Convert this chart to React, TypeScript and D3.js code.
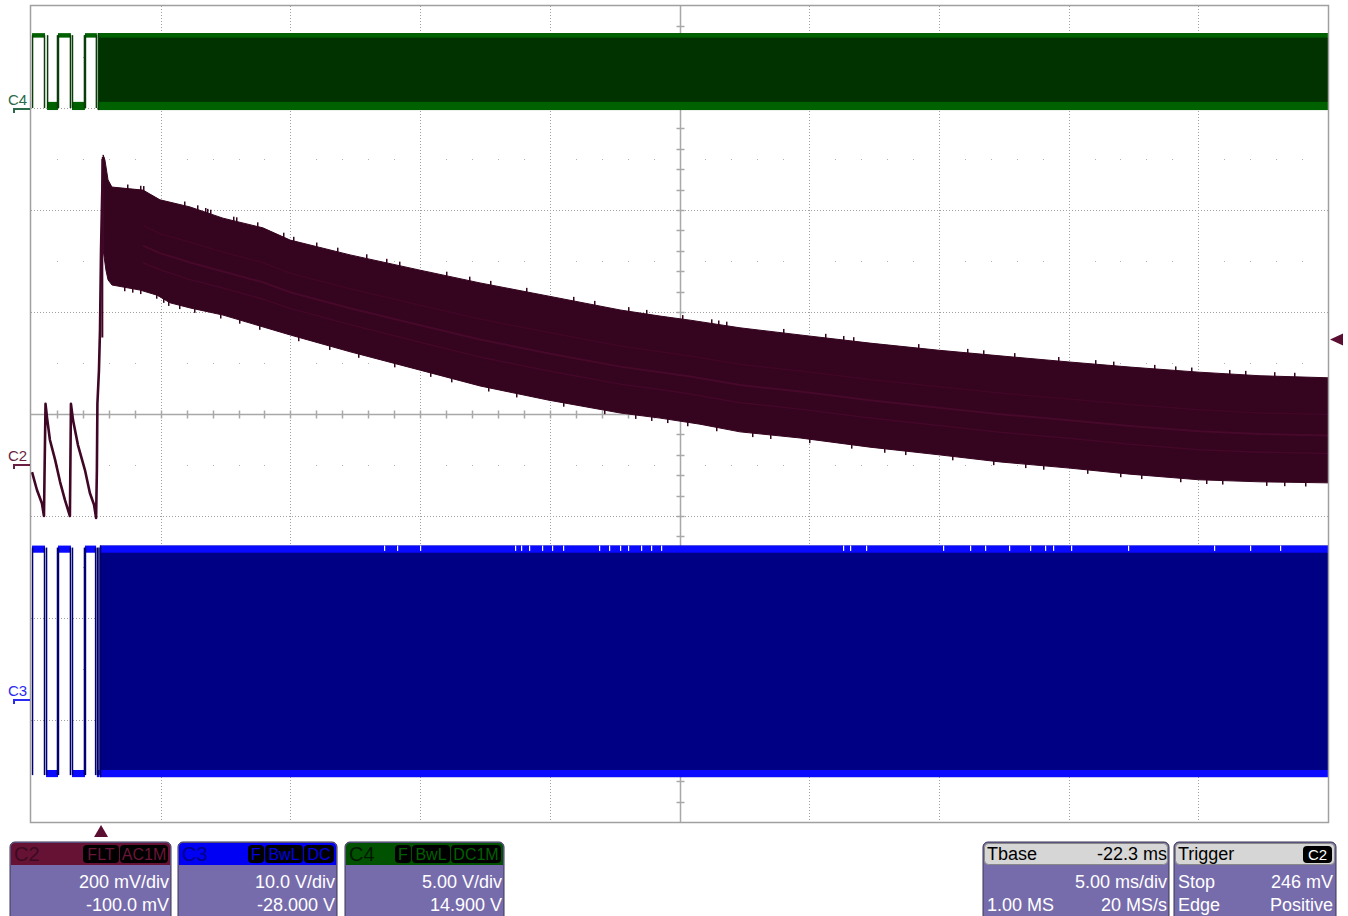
import React from 'react';
import * as d3 from 'd3';

const W = 1348;
const H = 916;

// ---- acquisition settings ----
const TIME_PER_DIV = 5; // ms/div
const TIME_CENTER = 22.3; // ms (Tbase delay)
const H_DIVS = 10;
const V_DIVS = 8;
const TRIGGER_LEVEL = 0.246; // V on C2

// position (div) = (v - offset) / vdiv  ... 0 V sits at -offset/vdiv
const CHANNELS = [
  { name: 'C2', vdiv: 0.2, offset: -0.1 },
  { name: 'C3', vdiv: 10, offset: -28 },
  { name: 'C4', vdiv: 5, offset: 14.9 },
];

// ---- C2 (maroon) : time ms, volts ----
const c2PreTrigger: [number, number][] = [
  [-2.66, -0.014], [-2.47, -0.049], [-2.28, -0.075], [-2.2, -0.1], [-2.18, -0.025],
  [-2.14, 0.12], [-2.08, 0.092], [-1.97, 0.049], [-1.77, 0.01], [-1.58, -0.033],
  [-1.39, -0.069], [-1.2, -0.1], [-1.16, 0.12], [-1.08, 0.088], [-0.89, 0.039],
  [-0.62, -0.01], [-0.43, -0.055], [-0.27, -0.078], [-0.19, -0.104], [-0.16, -0.01],
  [-0.14, 0.12], [-0.08, 0.186], [-0.04, 0.265], [0.0, 0.422], [0.04, 0.52], [0.08, 0.604],
];
const c2EnvelopeTop: [number, number][] = [
  [0.08, 0.608], [0.15, 0.598], [0.27, 0.559], [0.42, 0.545], [1.62, 0.539], [2.27, 0.52],
  [3.43, 0.506], [4.7, 0.484], [6.24, 0.465], [7.29, 0.441], [9.6, 0.412], [12.3, 0.382],
  [14.61, 0.357], [17.27, 0.331], [20.01, 0.304], [21.55, 0.292], [22.71, 0.284], [24.63, 0.269],
  [26.95, 0.255], [29.64, 0.239], [32.3, 0.225], [34.66, 0.214], [37.32, 0.202], [39.67, 0.192],
  [42.33, 0.182], [44.68, 0.175], [47.3, 0.171],
];
const c2EnvelopeBottom: [number, number][] = [
  [0.08, 0.422], [0.19, 0.382], [0.27, 0.363], [0.42, 0.353], [1.5, 0.343], [2.16, 0.333],
  [2.66, 0.318], [3.43, 0.308], [4.7, 0.294], [7.29, 0.255], [9.6, 0.222], [12.3, 0.186],
  [14.61, 0.155], [17.27, 0.127], [20.01, 0.102], [21.55, 0.092], [23.09, 0.08], [24.63, 0.065],
  [26.95, 0.053], [29.64, 0.035], [32.3, 0.02], [34.66, 0.006], [37.32, -0.006], [39.67, -0.018],
  [42.33, -0.029], [44.68, -0.033], [47.3, -0.035],
];
const c2TopNotches: number[] = [
  1.0, 1.5, 1.6, 3.2, 3.7, 4.0, 4.1, 4.2, 5.1, 5.2, 6.0, 7.0, 7.4, 8.3, 9.1, 10.2, 11.0, 11.5,
  13.3, 14.2, 15.0, 16.4, 18.2, 19.0, 20.3, 21.0, 22.4, 23.5, 23.8, 24.1, 26.3, 27.9, 28.6, 29.0,
  31.5, 33.4, 34.0, 35.2, 36.9, 38.3, 39.0, 40.6, 41.4, 42.0, 43.5, 44.1, 45.2, 46.0,
];
const c2BottomNotches: number[] = [
  0.9, 1.2, 1.5, 2.1, 2.4, 2.6, 3.0, 3.6, 4.6, 5.3, 6.1, 7.6, 8.8, 9.9, 11.3, 12.7, 13.5, 14.9,
  16.0, 17.8, 19.4, 20.6, 21.2, 21.8, 22.6, 23.7, 25.1, 25.8, 27.3, 28.9, 30.2, 31.0, 32.8, 34.4,
  35.6, 36.3, 38.0, 39.3, 40.1, 41.6, 42.6, 43.2, 44.9, 45.6, 46.4,
];

// ---- C3 (blue): volts ----
const C3_HIGH_TOP = 15.1;
const C3_HIGH_BOTTOM = 14.4;
const C3_LOW_TOP = -6.9;
const C3_LOW_BOTTOM = -7.6;
const c3PreSegments = [
  { start: -2.66, end: -2.16, high: true },
  { start: -2.12, end: -1.66, high: false },
  { start: -1.66, end: -1.16, high: true },
  { start: -1.12, end: -0.62, high: false },
  { start: -0.62, end: -0.19, high: true },
  { start: -0.16, end: -0.06, high: false },
];
const C3_BURST_START = -0.04;
const c3TopNotches: number[] = [
  10.9, 11.4, 12.3, 15.96, 16.2, 16.5, 17.0, 17.4, 17.8, 19.2, 19.6, 20.0, 20.3, 20.8, 21.2, 21.6,
  28.6, 28.87, 29.49, 32.46, 33.5, 34.08, 35.0, 35.8, 36.4, 36.7, 37.4, 39.6, 42.9, 44.3, 45.45,
];

// ---- C4 (green): volts ----
const C4_HIGH_TOP = 3.77;
const C4_HIGH_BOTTOM = 3.55;
const C4_LOW_TOP = 0.4;
const C4_LOW_BOTTOM = 0.0;
const c4PreSegments = [
  { start: -2.66, end: -2.16, high: true },
  { start: -2.08, end: -1.66, high: false },
  { start: -1.66, end: -1.16, high: true },
  { start: -1.12, end: -0.62, high: false },
  { start: -0.62, end: -0.16, high: true },
];
const C4_BURST_START = -0.12;

// ---- info panels ----
const c2Panel = ['200 mV/div', '-100.0 mV'];
const c3Panel = ['10.0 V/div', '-28.000 V'];
const c4Panel = ['5.00 V/div', '14.900 V'];
const tbasePanel = ['Tbase', '-22.3 ms', '5.00 ms/div', '1.00 MS', '20 MS/s'];
const triggerPanel = ['Trigger', 'C2', 'Stop', '246 mV', 'Edge', 'Positive'];

const PL = 31, PR = 1328, PT = 6, PB = 822;
const FONT = '"Liberation Sans", Arial, sans-serif';

const x = d3.scaleLinear()
  .domain([TIME_CENTER - (H_DIVS / 2) * TIME_PER_DIV, TIME_CENTER + (H_DIVS / 2) * TIME_PER_DIV])
  .range([PL, PR]);
const yDiv = d3.scaleLinear().domain([-V_DIVS / 2, V_DIVS / 2]).range([PB, PT]);
const chY = (name: string) => {
  const c = CHANNELS.find((d) => d.name === name)!;
  // C2 offset shifts trace down; C3/C4 follow display convention below
  return (v: number) => yDiv((v + (c.name === 'C2' ? c.offset : c.offset)) / c.vdiv);
};
const y2 = (v: number) => yDiv((v - 0.1) / 0.2);
const y3 = chY('C3');
const y4 = chY('C4');

const C2_COLOR = '#35041f';
const C2_LINE = '#3f0626';
const C3_FILL = '#000084';
const C3_BRIGHT = '#0a0aff';
const C4_FILL = '#003300';
const C4_BRIGHT = '#006100';

function Grid() {
  const els: React.ReactNode[] = [];
  const divW = (PR - PL) / H_DIVS;
  const divH = (PB - PT) / V_DIVS;
  for (let i = 1; i < H_DIVS; i++) {
    const xx = Math.round(PL + i * divW) + 0.5;
    if (i === H_DIVS / 2) {
      els.push(<line key={'vc'} x1={xx} x2={xx} y1={PT} y2={PB} stroke="#a8a8a8" strokeWidth={1.5} />);
    } else {
      els.push(<line key={'v' + i} x1={xx} x2={xx} y1={PT} y2={PB} stroke="#a0a0a0" strokeWidth={1} strokeDasharray="1,2" />);
    }
  }
  for (let j = 1; j < V_DIVS; j++) {
    const yy = Math.round(PT + j * divH) + 0.5;
    if (j === V_DIVS / 2) {
      els.push(<line key={'hc'} x1={PL} x2={PR} y1={yy} y2={yy} stroke="#a8a8a8" strokeWidth={1.5} />);
    } else {
      els.push(<line key={'h' + j} x1={PL} x2={PR} y1={yy} y2={yy} stroke="#a0a0a0" strokeWidth={1} strokeDasharray="1,2" />);
    }
  }
  for (let j = 0; j < V_DIVS; j++) {
    const yy = Math.round(PT + (j + 0.5) * divH);
    for (let k = 1; k < H_DIVS * 5; k++) {
      if (k % 5 === 0) continue;
      els.push(<rect key={`d${j}-${k}`} x={Math.round(PL + k * divW / 5)} y={yy} width={1} height={1} fill="#b0b0b0" />);
    }
  }
  const cx = Math.round(PL + 5 * divW) + 0.5;
  const cy = Math.round(PT + 4 * divH) + 0.5;
  for (let k = 1; k < V_DIVS * 5; k++) {
    const yy = Math.round(PT + k * divH / 5) + 0.5;
    els.push(<line key={'tv' + k} x1={cx - 4} x2={cx + 4} y1={yy} y2={yy} stroke="#a8a8a8" strokeWidth={1.5} />);
  }
  for (let k = 1; k < H_DIVS * 5; k++) {
    const xx = Math.round(PL + k * divW / 5) + 0.5;
    els.push(<line key={'th' + k} x1={xx} x2={xx} y1={cy - 4} y2={cy + 4} stroke="#a8a8a8" strokeWidth={1.5} />);
  }
  return <g>{els}</g>;
}

function C2Trace() {
  const line = d3.line<[number, number]>().x((d) => x(d[0])).y((d) => y2(d[1]));
  const band = [...c2EnvelopeTop, ...c2EnvelopeBottom.slice().reverse()];
  const bandPath = line(band) + 'Z';
  const topAt = d3.scaleLinear().domain(c2EnvelopeTop.map((d) => d[0])).range(c2EnvelopeTop.map((d) => d[1])).clamp(true);
  const botAt = d3.scaleLinear().domain(c2EnvelopeBottom.map((d) => d[0])).range(c2EnvelopeBottom.map((d) => d[1])).clamp(true);
  const ts = c2EnvelopeTop.map((d) => d[0]).filter((t) => t > 0.5);
  const stripe = (f: number) =>
    line(ts.map((t) => [t, topAt(t) + f * (botAt(t) - topAt(t))] as [number, number]));
  return (
    <g>
      <path d={line(c2PreTrigger)!} fill="none" stroke={C2_LINE} strokeWidth={2.6} strokeLinejoin="round" />
      <path d={bandPath} fill={C2_COLOR} stroke={C2_COLOR} strokeWidth={1} />
      <line x1={x(0.05)} x2={x(0.05)} y1={y2(0.6)} y2={y2(0.25)} stroke={C2_LINE} strokeWidth={2} />
      <path d={stripe(0.55)!} fill="none" stroke="#5e0f38" strokeOpacity={0.45} strokeWidth={2} />
      <path d={stripe(0.72)!} fill="none" stroke="#5e0f38" strokeOpacity={0.35} strokeWidth={1.5} />
      <path d={stripe(0.35)!} fill="none" stroke="#5e0f38" strokeOpacity={0.25} strokeWidth={1.5} />
      {c2TopNotches.map((t, i) => (
        <rect key={'tn' + i} x={Math.round(x(t))} y={y2(topAt(t)) - 4} width={1.5} height={5} fill={C2_COLOR} />
      ))}
      {c2BottomNotches.map((t, i) => (
        <rect key={'bn' + i} x={Math.round(x(t))} y={y2(botAt(t)) - 1} width={1.5} height={5} fill={C2_COLOR} />
      ))}
    </g>
  );
}

function LogicTrace(props: {
  segs: { start: number; end: number; high: boolean }[];
  burst: number;
  y: (v: number) => number;
  hiTop: number; hiBot: number; loTop: number; loBot: number;
  fill: string; bright: string; edge: string; notches?: number[];
}) {
  const { segs, burst, y, hiTop, hiBot, loTop, loBot, fill, bright, edge, notches } = props;
  const els: React.ReactNode[] = [];
  segs.forEach((s, i) => {
    const top = s.high ? y(hiTop) : y(loTop);
    const bot = s.high ? y(hiBot) : y(loBot);
    els.push(<rect key={'s' + i} x={x(s.start)} y={top} width={x(s.end) - x(s.start)} height={bot - top} fill={bright} />);
    els.push(<line key={'e' + i} x1={x(s.start) + 0.5} x2={x(s.start) + 0.5} y1={y(hiTop) + 2} y2={y(loBot) - 2} stroke={edge} strokeWidth={1.5} />);
    els.push(<line key={'f' + i} x1={x(s.end) - 0.5} x2={x(s.end) - 0.5} y1={y(hiTop) + 2} y2={y(loBot) - 2} stroke={edge} strokeWidth={1.5} />);
  });
  const bx = x(burst);
  els.push(<rect key="band" x={bx} y={y(hiTop)} width={PR - bx} height={y(loBot) - y(hiTop)} fill={fill} />);
  els.push(<rect key="bt" x={bx} y={y(hiTop)} width={PR - bx} height={y(hiBot) - y(hiTop)} fill={bright} />);
  els.push(<rect key="bb" x={bx} y={y(loTop)} width={PR - bx} height={y(loBot) - y(loTop)} fill={bright} />);
  els.push(<line key="bl" x1={bx + 0.5} x2={bx + 0.5} y1={y(hiTop)} y2={y(loBot)} stroke={edge} strokeWidth={1.5} />);
  (notches || []).forEach((t, i) => {
    els.push(<rect key={'n' + i} x={Math.round(x(t))} y={y(hiTop)} width={1.2} height={(y(hiBot) - y(hiTop)) * 0.75} fill="#ffffff" />);
  });
  return <g>{els}</g>;
}

function ChannelMarker(props: { label: string; y0: number; color: string }) {
  const { label, y0, color } = props;
  return (
    <g>
      <text x={8} y={y0 - 4} fontFamily={FONT} fontSize={15} fill={color}>{label}</text>
      <path d={`M14,${y0 + 4} V${y0} H30`} fill="none" stroke={color} strokeWidth={2} />
    </g>
  );
}

function Pill(props: { x: number; y: number; w: number; text: string; color: string }) {
  const { x: px, y: py, w, text, color } = props;
  return (
    <g>
      <rect x={px} y={py} width={w} height={18} rx={4} fill="#000" />
      <text x={px + w / 2} y={py + 15} textAnchor="middle" fontFamily={FONT} fontSize={16} fill={color}>{text}</text>
    </g>
  );
}

const BODY = '#776cab';
const BOX_TOP = 842;

function ChannelPanel(props: {
  x0: number; x1: number; name: string; header: string; nameColor: string; pillColor: string;
  pills: { t: string; w: number }[]; lines: string[];
}) {
  const { x0, x1, name, header, nameColor, pillColor, pills, lines } = props;
  let px = x1 - 3;
  const pillEls = pills.slice().reverse().map((p, i) => {
    px -= p.w;
    const el = <Pill key={i} x={px} y={BOX_TOP + 3} w={p.w} text={p.t} color={pillColor} />;
    px -= 1;
    return el;
  });
  return (
    <g>
      <rect x={x0} y={BOX_TOP} width={x1 - x0} height={H - BOX_TOP + 6} rx={5} fill={BODY} stroke="#3a3550" strokeWidth={1} />
      <path d={`M${x0 + 1},${BOX_TOP + 23} V${BOX_TOP + 5} Q${x0 + 1},${BOX_TOP + 1} ${x0 + 5},${BOX_TOP + 1} H${x1 - 5} Q${x1 - 1},${BOX_TOP + 1} ${x1 - 1},${BOX_TOP + 5} V${BOX_TOP + 23} Z`} fill={header} />
      <text x={x0 + 4} y={BOX_TOP + 19} fontFamily={FONT} fontSize={20} fill={nameColor}>{name}</text>
      {pillEls}
      <text x={x1 - 2} y={BOX_TOP + 46} textAnchor="end" fontFamily={FONT} fontSize={18} fill="#fff">{lines[0]}</text>
      <text x={x1 - 2} y={BOX_TOP + 69} textAnchor="end" fontFamily={FONT} fontSize={18} fill="#fff">{lines[1]}</text>
    </g>
  );
}

function GrayPanel(props: { x0: number; x1: number; children: React.ReactNode }) {
  const { x0, x1 } = props;
  return (
    <g>
      <rect x={x0} y={BOX_TOP} width={x1 - x0} height={H - BOX_TOP + 6} rx={5} fill={BODY} stroke="#3a3550" strokeWidth={1} />
      <rect x={x0 + 1.5} y={BOX_TOP + 1.5} width={x1 - x0 - 3} height={21} rx={4} fill="#d6d6d6" stroke="#888" strokeWidth={1} />
      {props.children}
    </g>
  );
}

export default function App() {
  const zero2 = y2(0);
  const zero3 = y3(0);
  const zero4 = y4(0);
  const trigX = x(0);
  const trigY = y2(TRIGGER_LEVEL);
  const ts = { fontFamily: FONT, fontSize: 18 };
  return (
    <svg width={W} height={H} style={{ position: 'absolute', left: 0, top: 0, background: '#fff' }}>
      <rect x={0} y={0} width={W} height={H} fill="#fff" />
      <Grid />
      <LogicTrace segs={c4PreSegments} burst={C4_BURST_START} y={y4}
        hiTop={C4_HIGH_TOP} hiBot={C4_HIGH_BOTTOM} loTop={C4_LOW_TOP} loBot={C4_LOW_BOTTOM}
        fill={C4_FILL} bright={C4_BRIGHT} edge="#0b3d0b" />
      <C2Trace />
      <LogicTrace segs={c3PreSegments} burst={C3_BURST_START} y={y3}
        hiTop={C3_HIGH_TOP} hiBot={C3_HIGH_BOTTOM} loTop={C3_LOW_TOP} loBot={C3_LOW_BOTTOM}
        fill={C3_FILL} bright={C3_BRIGHT} edge="#000070" notches={c3TopNotches} />
      <rect x={PL - 0.5} y={PT - 0.5} width={PR - PL + 1} height={PB - PT + 1} fill="none" stroke="#a0a0a0" strokeWidth={1.5} />

      <ChannelMarker label="C4" y0={Math.round(zero4) - 1} color="#2a6a48" />
      <ChannelMarker label="C2" y0={Math.round(zero2)} color="#6a1f42" />
      <ChannelMarker label="C3" y0={Math.round(zero3)} color="#2b2bf0" />

      <path d={`M${trigX - 7},837 L${trigX},825 L${trigX + 7},837 Z`} fill="#5a0f32" />
      <path d={`M1343,${trigY - 6} L1330,${trigY} L1343,${trigY + 6} Z`} fill="#5a0f32" />

      <ChannelPanel x0={10} x1={171} name="C2" header="#651235" nameColor="#3c0a22" pillColor="#6a1638"
        pills={[{ t: 'FLT', w: 36 }, { t: 'AC1M', w: 48 }]} lines={c2Panel} />
      <ChannelPanel x0={178} x1={337} name="C3" header="#0000f4" nameColor="#00008a" pillColor="#0000e0"
        pills={[{ t: 'F', w: 16 }, { t: 'BwL', w: 38 }, { t: 'DC', w: 30 }]} lines={c3Panel} />
      <ChannelPanel x0={345} x1={504} name="C4" header="#005200" nameColor="#001800" pillColor="#006000"
        pills={[{ t: 'F', w: 16 }, { t: 'BwL', w: 38 }, { t: 'DC1M', w: 50 }]} lines={c4Panel} />

      <GrayPanel x0={983} x1={1169}>
        <text x={987} y={BOX_TOP + 18} {...ts} fill="#000">{tbasePanel[0]}</text>
        <text x={1167} y={BOX_TOP + 18} {...ts} textAnchor="end" fill="#000">{tbasePanel[1]}</text>
        <text x={1167} y={BOX_TOP + 46} {...ts} textAnchor="end" fill="#fff">{tbasePanel[2]}</text>
        <text x={987} y={BOX_TOP + 69} {...ts} fill="#fff">{tbasePanel[3]}</text>
        <text x={1167} y={BOX_TOP + 69} {...ts} textAnchor="end" fill="#fff">{tbasePanel[4]}</text>
      </GrayPanel>
      <GrayPanel x0={1174} x1={1336}>
        <text x={1178} y={BOX_TOP + 18} {...ts} fill="#000">{triggerPanel[0]}</text>
        <rect x={1303} y={BOX_TOP + 4} width={29} height={17} rx={4} fill="#000" />
        <text x={1317.5} y={BOX_TOP + 18} fontFamily={FONT} fontSize={15} textAnchor="middle" fill="#fff">{triggerPanel[1]}</text>
        <text x={1178} y={BOX_TOP + 46} {...ts} fill="#fff">{triggerPanel[2]}</text>
        <text x={1333} y={BOX_TOP + 46} {...ts} textAnchor="end" fill="#fff">{triggerPanel[3]}</text>
        <text x={1178} y={BOX_TOP + 69} {...ts} fill="#fff">{triggerPanel[4]}</text>
        <text x={1333} y={BOX_TOP + 69} {...ts} textAnchor="end" fill="#fff">{triggerPanel[5]}</text>
      </GrayPanel>
    </svg>
  );
}
